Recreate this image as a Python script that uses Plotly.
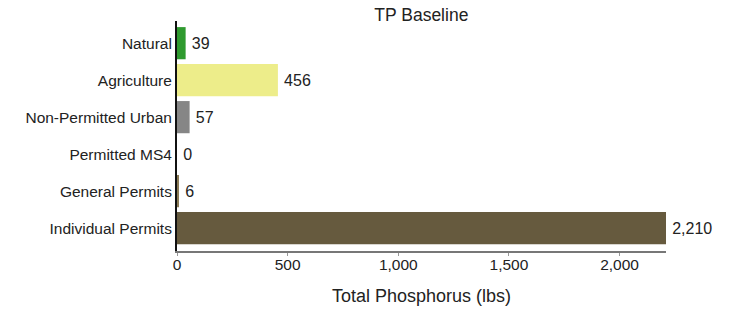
import plotly.graph_objects as go

categories = ["Natural", "Agriculture", "Non-Permitted Urban", "Permitted MS4", "General Permits", "Individual Permits"]
values = [39, 456, 57, 0, 6, 2210]
colors = ["#2f9a2f", "#eded8a", "#868686", "#5b8fb0", "#8a7a55", "#665a3e"]
tick_vals = [0, 500, 1000, 1500, 2000]
tick_text = ["0", "500", "1,000", "1,500", "2,000"]

fig = go.Figure(go.Bar(
    y=categories, x=values, orientation="h",
    marker=dict(color=colors, line=dict(width=0)),
    text=[f"\u2009{v:,}" for v in values], textposition="outside",
    textfont=dict(size=16, color="#222222"),
    cliponaxis=False,
))

fig.update_layout(
    width=740, height=315,
    margin=dict(l=177, r=74, t=21, b=64),
    paper_bgcolor="white", plot_bgcolor="white",
    font=dict(family="Liberation Sans, Arial, sans-serif", size=15, color="#222222"),
    title=dict(text="TP Baseline", x=0.5694, xanchor="center", y=0.952, yanchor="middle",
               font=dict(size=17.5, color="#222222")),
    bargap=0.13,
    showlegend=False,
    xaxis=dict(range=[0, 2210], tickvals=tick_vals, ticktext=tick_text, automargin=False,
               showgrid=False, zeroline=False, showline=True, linecolor="#777777", linewidth=2,
               ticks="outside", ticklen=3, tickcolor="#999999", ticklabelstandoff=-5,
               title=dict(text="Total Phosphorus (lbs)", font=dict(size=18), standoff=18),
               tickfont=dict(size=15.5)),
    yaxis=dict(categoryorder="array", categoryarray=categories, autorange=False, automargin=False,
               range=[5.62, -0.6], showgrid=False, zeroline=False,
               showline=True, linecolor="#111111", linewidth=2, ticks="", ticklen=0,
               tickfont=dict(size=15.5)),
)

fig.write_html("out.html", config={"displayModeBar": False},
               post_script="document.body.style.margin='0';")
